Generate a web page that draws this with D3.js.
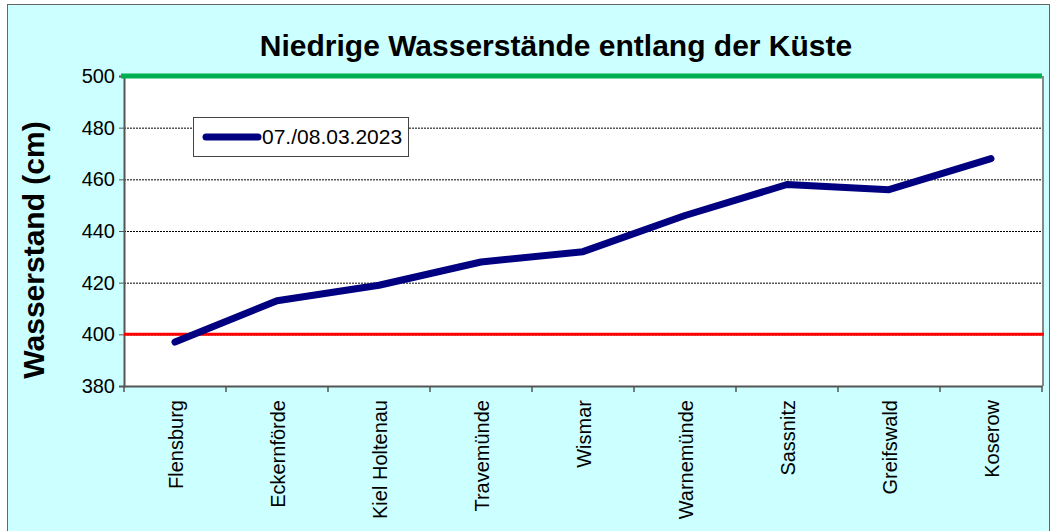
<!DOCTYPE html>
<html lang="en">
<head>
<meta charset="utf-8">
<title>Niedrige Wasserstände</title>
<script src="https://d3js.org/d3.v7.min.js"></script>
<style>
  body { margin: 0; background: #fff; }
  text { font-family: "Liberation Sans", Arial, sans-serif; }
</style>
</head>
<body>
<script>
// data
var stations = ["Flensburg", "Eckernförde", "Kiel Holtenau", "Travemünde", "Wismar",
                "Warnemünde", "Sassnitz", "Greifswald", "Koserow"];
var levels = [397, 413, 419, 428, 432, 446, 458, 456, 468];
var yTicks = [380, 400, 420, 440, 460, 480, 500];
var seriesName = "07./08.03.2023";
var upperRef = 500, lowerRef = 400;

var w = 1052, h = 531;
var pLeft = 124, pRight = 1042, pTop = 76, pBottom = 386;

var svg = d3.select("body").append("svg")
  .attr("width", w).attr("height", h);

// chart background
svg.append("rect")
  .attr("x", 7.5).attr("y", 4.5)
  .attr("width", w - 10).attr("height", h)
  .attr("fill", "#ccffff").attr("stroke", "#666").attr("stroke-width", 1);

var x = d3.scaleBand().domain(stations).range([pLeft, pRight]);
var y = d3.scaleLinear().domain([380, 500]).range([pBottom, pTop]);

// plot area
svg.append("rect")
  .attr("x", pLeft).attr("y", pTop)
  .attr("width", pRight - pLeft).attr("height", pBottom - pTop)
  .attr("fill", "#fff");

// gridlines
svg.append("g").selectAll("line")
  .data(yTicks.filter(function(d) { return d > 380 && d < 500; }))
  .enter().append("line")
  .attr("x1", pLeft).attr("x2", pRight)
  .attr("y1", function(d) { return y(d) + 0.5; })
  .attr("y2", function(d) { return y(d) + 0.5; })
  .attr("stroke", "#000").attr("stroke-width", 1)
  .attr("stroke-dasharray", "2,1");

// plot border (right side gray)
svg.append("line")
  .attr("x1", pRight + 1).attr("x2", pRight + 1)
  .attr("y1", pTop).attr("y2", pBottom)
  .attr("stroke", "#888").attr("stroke-width", 2);

// y axis
var yAxis = svg.append("g")
  .attr("transform", "translate(" + pLeft + ",0)")
  .call(d3.axisLeft(y).tickValues(yTicks).tickSize(5).tickPadding(4));
yAxis.selectAll("text").style("font-size", "20px").attr("fill", "#000");
yAxis.select(".domain").attr("stroke", "#555").attr("stroke-width", 2);
yAxis.selectAll(".tick line").attr("stroke", "#555");

// x axis
var xAxis = svg.append("g")
  .attr("transform", "translate(0," + pBottom + ")")
  .call(d3.axisBottom(x).tickSize(0).tickFormat(""));
xAxis.select(".domain").attr("stroke", "#555").attr("stroke-width", 2);
svg.append("g").selectAll("line")
  .data(d3.range(stations.length + 1))
  .enter().append("line")
  .attr("x1", function(i) { return pLeft + i * x.step(); })
  .attr("x2", function(i) { return pLeft + i * x.step(); })
  .attr("y1", pBottom).attr("y2", pBottom + 6)
  .attr("stroke", "#555").attr("stroke-width", 1.5);

svg.append("g").selectAll("text")
  .data(stations)
  .enter().append("text")
  .attr("transform", function(d) {
    return "translate(" + (x(d) + x.bandwidth() / 2 + 8) + "," + (pBottom + 14) + ") rotate(-90)";
  })
  .attr("text-anchor", "end")
  .style("font-size", "20px")
  .text(function(d) { return d; });

// reference lines
svg.append("line")
  .attr("x1", pLeft - 3).attr("x2", pRight)
  .attr("y1", y(upperRef)).attr("y2", y(upperRef))
  .attr("stroke", "#00b050").attr("stroke-width", 5);
svg.append("line")
  .attr("x1", pLeft).attr("x2", pRight + 2)
  .attr("y1", y(lowerRef)).attr("y2", y(lowerRef))
  .attr("stroke", "#ff0000").attr("stroke-width", 3);

// series line
var line = d3.line()
  .x(function(d, i) { return x(stations[i]) + x.bandwidth() / 2; })
  .y(function(d) { return y(d); });
svg.append("path")
  .datum(levels)
  .attr("d", line)
  .attr("fill", "none")
  .attr("stroke", "#000080")
  .attr("stroke-width", 7)
  .attr("stroke-linecap", "round")
  .attr("stroke-linejoin", "round");

// legend
var lg = svg.append("g");
lg.append("rect")
  .attr("x", 193.5).attr("y", 117.5)
  .attr("width", 215).attr("height", 39)
  .attr("fill", "#fff").attr("stroke", "#444").attr("stroke-width", 1);
lg.append("line")
  .attr("x1", 206).attr("x2", 258)
  .attr("y1", 137).attr("y2", 137)
  .attr("stroke", "#000080").attr("stroke-width", 7)
  .attr("stroke-linecap", "round");
lg.append("text")
  .attr("x", 262).attr("y", 144)
  .style("font-size", "21px")
  .text(seriesName);

// title
svg.append("text")
  .attr("x", 556).attr("y", 56)
  .attr("text-anchor", "middle")
  .style("font-size", "30px").style("font-weight", "bold")
  .text("Niedrige Wasserstände entlang der Küste");

// y label
svg.append("text")
  .attr("transform", "translate(44,250) rotate(-90)")
  .attr("text-anchor", "middle")
  .style("font-size", "30px").style("font-weight", "bold")
  .text("Wasserstand (cm)");
</script>
</body>
</html>
